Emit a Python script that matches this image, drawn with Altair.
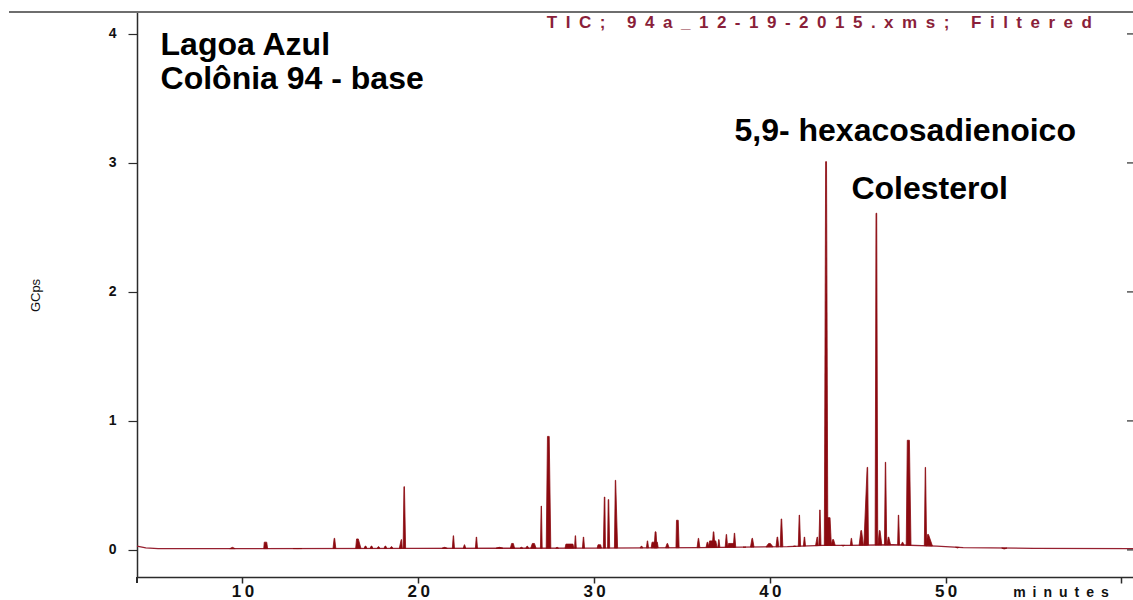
import altair as alt
import numpy as np
import pandas as pd

# Baseline of the total ion current trace (minutes, Gcps)
base_t = [4.0, 4.5, 5.2, 10.0, 20.0, 30.0, 36.0, 41.0, 43.0, 44.5, 47.0, 49.5, 51.0, 55.0, 60.66]
base_y = [0.030, 0.016, 0.010, 0.010, 0.012, 0.014, 0.018, 0.025, 0.035, 0.035, 0.040, 0.030, 0.018, 0.012, 0.010]

# Peaks: retention time, apex height, half width left / right at the foot, apex width
peak_rt = [9.43, 11.31, 13.13, 15.23, 16.54, 17.0, 17.34, 17.74, 18.13, 18.48,
           19.04, 19.2, 21.5, 22.0, 22.63, 23.31, 24.62, 25.36, 25.87, 26.2,
           26.55, 27.0, 27.4, 27.9, 28.6, 28.94, 29.4, 30.3, 30.6, 30.82,
           31.22, 32.7, 33.04, 33.45, 33.5, 34.17, 34.74, 35.94, 36.45, 36.75,
           36.8, 37.1, 37.53, 37.8, 37.99, 38.56, 39.0, 39.98, 40.43, 40.66,
           41.4, 41.68, 41.97, 42.7, 42.85, 43.2, 43.35, 43.6, 44.17, 44.64,
           45.2, 45.55, 46.06, 46.25, 46.58, 46.75, 47.32, 47.55, 47.88, 48.85,
           49.0, 50.67, 53.34]
peak_h = [0.02, 0.06, 0.01, 0.09, 0.085, 0.03, 0.03, 0.025, 0.03, 0.025,
          0.08, 0.49, 0.02, 0.11, 0.04, 0.10, 0.02, 0.05, 0.02, 0.03,
          0.05, 0.34, 0.88, 0.02, 0.045, 0.11, 0.10, 0.04, 0.41, 0.39,
          0.54, 0.03, 0.07, 0.06, 0.14, 0.05, 0.23, 0.09, 0.06, 0.07,
          0.14, 0.08, 0.12, 0.05, 0.13, 0.02, 0.09, 0.05, 0.10, 0.24,
          0.03, 0.27, 0.10, 0.10, 0.31, 3.01, 0.25, 0.08, 0.03, 0.09,
          0.15, 0.64, 2.61, 0.15, 0.68, 0.10, 0.27, 0.06, 0.85, 0.64,
          0.12, 0.015, 0.008]
peak_left = [0.15, 0.10, 0.25, 0.08, 0.10, 0.08, 0.08, 0.08, 0.08, 0.08,
             0.12, 0.06, 0.15, 0.06, 0.07, 0.06, 0.20, 0.12, 0.08, 0.08,
             0.15, 0.05, 0.12, 0.08, 0.25, 0.05, 0.06, 0.12, 0.07, 0.05,
             0.06, 0.08, 0.06, 0.20, 0.08, 0.10, 0.08, 0.08, 0.08, 0.25,
             0.08, 0.06, 0.07, 0.20, 0.07, 0.08, 0.10, 0.20, 0.08, 0.07,
             0.08, 0.06, 0.06, 0.10, 0.06, 0.10, 0.15, 0.12, 0.08, 0.06,
             0.12, 0.20, 0.07, 0.10, 0.06, 0.08, 0.05, 0.08, 0.12, 0.06,
             0.12, 0.10, 0.15]
peak_right = [0.15, 0.12, 0.25, 0.08, 0.20, 0.08, 0.08, 0.08, 0.08, 0.08,
              0.05, 0.08, 0.15, 0.06, 0.07, 0.06, 0.20, 0.12, 0.08, 0.08,
              0.15, 0.05, 0.14, 0.08, 0.25, 0.05, 0.06, 0.12, 0.05, 0.07,
              0.12, 0.08, 0.06, 0.20, 0.08, 0.10, 0.10, 0.08, 0.08, 0.25,
              0.08, 0.06, 0.07, 0.20, 0.07, 0.08, 0.10, 0.20, 0.08, 0.08,
              0.08, 0.07, 0.06, 0.05, 0.06, 0.10, 0.15, 0.12, 0.08, 0.06,
              0.12, 0.06, 0.08, 0.12, 0.07, 0.12, 0.06, 0.08, 0.15, 0.07,
              0.25, 0.10, 0.15]
peak_top = [0.0, 0.14, 0.0, 0.03, 0.10, 0.04, 0.04, 0.04, 0.04, 0.04,
            0.02, 0.03, 0.0, 0.02, 0.02, 0.02, 0.05, 0.10, 0.02, 0.02,
            0.12, 0.02, 0.10, 0.02, 0.40, 0.02, 0.02, 0.15, 0.03, 0.03,
            0.02, 0.02, 0.02, 0.30, 0.05, 0.03, 0.10, 0.02, 0.03, 0.35,
            0.03, 0.02, 0.02, 0.30, 0.02, 0.02, 0.03, 0.10, 0.03, 0.03,
            0.02, 0.02, 0.02, 0.02, 0.02, 0.05, 0.15, 0.05, 0.02, 0.02,
            0.04, 0.03, 0.04, 0.04, 0.02, 0.03, 0.02, 0.02, 0.12, 0.02,
            0.05, 0.02, 0.05]

y_ticks = [0, 1, 2, 3, 4]
x_ticks = [10, 20, 30, 40, 50, 60]

header_lines = ["Lagoa Azul", "Colônia 94 - base"]
peak_names = ["5,9- hexacosadienoico", "Colesterol"]
trace_title = "TIC; 94a_12-19-2015.xms; Filtered"

TRACE = "#8b0a10"
LINE = "#962030"
AXIS = "#2b2b2b"
FONT = "Liberation Sans"

W, H = 996, 565
X_DOM = [4.0, 60.66]
Y_DOM = [-0.21, 4.17]

# Each peak becomes a small filled polygon sitting on the baseline
rows = []
for i, (rt, h, wl, wr, tw) in enumerate(zip(peak_rt, peak_h, peak_left, peak_right, peak_top)):
    xs = [rt - wl, rt - tw / 2, rt + tw / 2, rt + wr]
    bs = np.interp(xs, base_t, base_y)
    ys = [bs[0], h, h, bs[3]]
    for x, y, b in zip(xs, ys, bs):
        rows.append({"t": x, "y": y, "base": b, "peak": i})
peaks_df = pd.DataFrame(rows)
base_df = pd.DataFrame({"t": base_t, "y": base_y})

xs = alt.Scale(domain=X_DOM, nice=False, zero=False)
ys = alt.Scale(domain=Y_DOM, nice=False, zero=False)

x_axis = alt.Axis(
    values=x_ticks, grid=False, title=None,
    tickSize=6, tickWidth=1.5, tickColor=AXIS,
    domainColor=AXIS, domainWidth=1.5,
    labelFont=FONT, labelFontSize=17, labelFontWeight="bold", labelColor="#111",
    labelPadding=0,
    labelExpr="datum.value == 60 ? '' : slice(datum.label, 0, 1) + '\u2009' + slice(datum.label, 1)",
)
y_axis = alt.Axis(
    values=y_ticks, grid=False, format="d",
    tickSize=9, tickWidth=1.2, tickColor=AXIS,
    domainColor=AXIS, domainWidth=1.5,
    labelFont=FONT, labelFontSize=14, labelFontWeight="bold", labelColor="#111",
    labelPadding=12,
    title="GCps", titleFont=FONT, titleFontSize=13, titleFontWeight="normal",
    titleColor="#111", titleX=-102, titleY=283, titleAngle=270,
    titleAlign="center", titleBaseline="middle",
)

baseline = alt.Chart(base_df).mark_line(color=LINE, strokeWidth=1.3).encode(
    x=alt.X("t:Q", scale=xs, axis=x_axis),
    y=alt.Y("y:Q", scale=ys, axis=y_axis),
)

areas = alt.Chart(peaks_df).mark_area(
    color=TRACE, stroke=TRACE, strokeWidth=0.8, interpolate="linear"
).encode(
    x=alt.X("t:Q", scale=xs),
    y=alt.Y("y:Q", scale=ys),
    y2="base:Q",
    detail="peak:N",
)

# Frame pieces: top rule, short extension of the left axis, inner ticks at the right
top_rule = alt.Chart(base_df).mark_rule(color="#6e6e6e", strokeWidth=2).encode(
    x=alt.value(-128), x2=alt.value(W), y=alt.value(0)
)
axis_ext = alt.Chart(base_df).mark_rule(color=AXIS, strokeWidth=1.5).encode(
    x=alt.value(0), y=alt.value(H), y2=alt.value(H + 6)
)
right_ticks = alt.Chart(pd.DataFrame({"v": y_ticks})).mark_rule(
    color=AXIS, strokeWidth=1.2
).encode(
    y=alt.Y("v:Q", scale=ys), x=alt.value(W - 6), x2=alt.value(W)
)

header = alt.Chart(pd.DataFrame({
    "label": header_lines, "t": [5.34, 5.34], "y": [3.84, 3.57]
})).mark_text(
    font=FONT, fontSize=32, fontWeight="bold", color="#000", align="left", baseline="alphabetic"
).encode(x=alt.X("t:Q", scale=xs), y=alt.Y("y:Q", scale=ys), text="label:N")

names = alt.Chart(pd.DataFrame({
    "label": peak_names, "t": [37.99, 44.64], "y": [3.17, 2.72]
})).mark_text(
    font=FONT, fontSize=32, fontWeight="bold", color="#000", align="left", baseline="alphabetic"
).encode(x=alt.X("t:Q", scale=xs), y=alt.Y("y:Q", scale=ys), text="label:N")

spaced_title = "\u2002".join(list(trace_title))
tic = alt.Chart(pd.DataFrame({"label": [spaced_title], "t": [42.82], "y": [4.085]})).mark_text(
    font=FONT, fontSize=17, fontWeight="bold", color="#8a1f3a", align="center", baseline="middle"
).encode(x=alt.X("t:Q", scale=xs), y=alt.Y("y:Q", scale=ys), text="label:N")

minutes = alt.Chart(pd.DataFrame({"label": ["m\u2002i\u2002n\u2002u\u2002t\u2002e\u2002s"]})).mark_text(
    font=FONT, fontSize=14, fontWeight="bold", color="#111", align="center", baseline="top"
).encode(x=alt.value(924), y=alt.value(H + 9), text="label:N")

chart = alt.layer(
    baseline, areas, top_rule, axis_ext, right_ticks, header, names, tic, minutes
).properties(
    width=W, height=H,
    padding={"left": 137, "top": 12, "right": 0, "bottom": 23},
    autosize="none",
    background="white",
).configure_view(stroke=None)

chart.save("out.html", embed_options={"renderer": "svg", "actions": False})
